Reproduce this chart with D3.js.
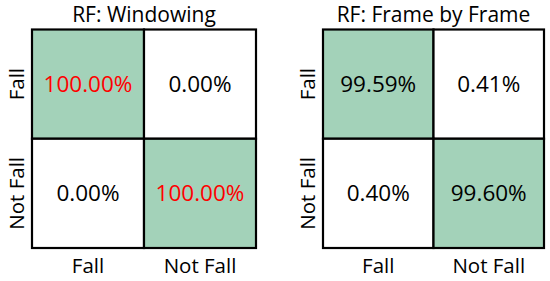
<!DOCTYPE html>
<html><head><meta charset="utf-8">
<script src="https://cdn.jsdelivr.net/npm/d3@7"></script>
<style>body{margin:0;background:#fff}svg{display:block}text{font-family:"Open Sans",sans-serif}</style>
</head><body><svg id="c" width="550" height="281"></svg>
<script>
const titles = ["RF: Windowing", "RF: Frame by Frame"];
const classes = ["Fall", "Not Fall"];
const windowing = [[100.00, 0.00], [0.00, 100.00]];
const frameByFrame = [[99.59, 0.41], [0.40, 99.60]];
const redText = [true, false];

const svg = d3.select("#c");
const panels = [
  {title: titles[0], vals: windowing, red: redText[0], x0: 32, x1: 256},
  {title: titles[1], vals: frameByFrame, red: redText[1], x0: 323, x1: 544}
];
const y0 = 29.5, y1 = 248;
panels.forEach(p => {
  const g = svg.append("g");
  const x = d3.scaleBand().domain(classes).range([p.x0, p.x1]);
  const y = d3.scaleBand().domain(classes).range([y0, y1]);
  const cells = [];
  classes.forEach((r, i) => classes.forEach((c, j) => cells.push({r, c, v: p.vals[i][j], diag: i === j})));
  g.selectAll("rect").data(cells).join("rect")
    .attr("x", d => x(d.c)).attr("y", d => y(d.r))
    .attr("width", x.bandwidth()).attr("height", y.bandwidth())
    .attr("fill", d => d.diag ? "#a3d2b9" : "#fff")
    .attr("stroke", "#000").attr("stroke-width", 2.2);
  g.selectAll("text.v").data(cells).join("text").attr("class", "v")
    .attr("x", d => x(d.c) + x.bandwidth() / 2)
    .attr("y", d => y(d.r) + y.bandwidth() / 2 + 8)
    .attr("text-anchor", "middle")
    .attr("font-size", 22.5)
    .attr("fill", d => (p.red && d.diag) ? "#ff0000" : "#000")
    .text(d => d.v.toFixed(2) + "%");
  g.append("text").attr("x", (p.x0 + p.x1) / 2).attr("y", 22)
    .attr("text-anchor", "middle").attr("font-size", 21).text(p.title);
  g.selectAll("text.cl").data(classes).join("text").attr("class", "cl")
    .attr("x", d => x(d) + x.bandwidth() / 2).attr("y", 273)
    .attr("text-anchor", "middle").attr("font-size", 20.5).text(d => d);
  g.selectAll("text.rl").data(classes).join("text").attr("class", "rl")
    .attr("transform", d => `translate(${p.x0 - 8},${y(d) + y.bandwidth() / 2}) rotate(-90)`)
    .attr("text-anchor", "middle").attr("font-size", 20.5).text(d => d);
});
</script></body></html>
